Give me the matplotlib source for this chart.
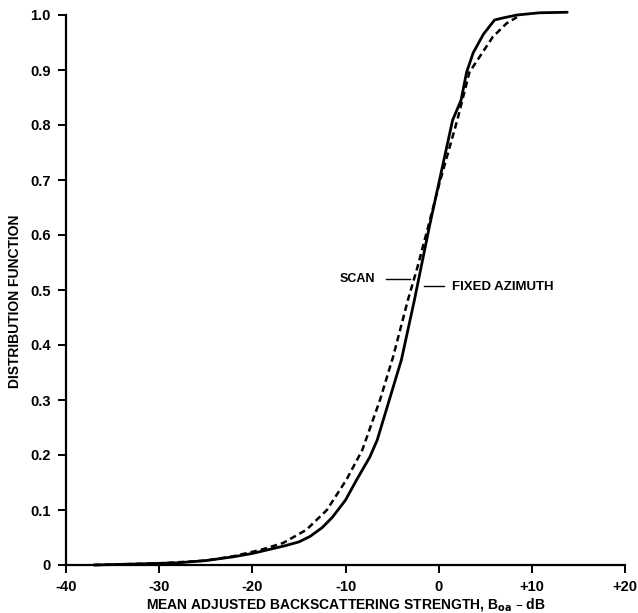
import matplotlib
matplotlib.use('Agg')
import matplotlib.pyplot as plt

# 曲线数据
fixed_x = [-37, -32, -28, -25, -22, -20, -18, -16.5, -15, -13.8, -12.5, -11.4, -10, -8.8, -7.4,
           -6.6, -5.3, -4.0, -2.6, -1.0, 0.4, 1.5, 2.4, 3.0, 3.7, 4.8, 6.0, 7.0, 8.4, 10.8, 13.8]
fixed_y = [0.0, 0.002, 0.004, 0.008, 0.015, 0.021, 0.029, 0.035, 0.042, 0.052, 0.068, 0.087, 0.118,
           0.155, 0.196, 0.227, 0.300, 0.373, 0.482, 0.615, 0.724, 0.809, 0.845, 0.896, 0.931, 0.965,
           0.991, 0.995, 1.000, 1.004, 1.005]

scan_x = [-37, -30, -25, -22, -19, -16.7, -14.2, -12.0, -9.9, -8.2, -6.3, -4.9, -3.3, -2.3, -1.3,
          0.1, 2.0, 3.3, 4.4, 5.8, 7.3, 8.4]
scan_y = [0.0, 0.003, 0.008, 0.016, 0.028, 0.040, 0.064, 0.100, 0.155, 0.209, 0.300, 0.378, 0.482,
          0.540, 0.604, 0.695, 0.809, 0.896, 0.924, 0.960, 0.985, 0.996]

xticks = [-40, -30, -20, -10, 0, 10, 20]
xtick_labels = ['-40', '-30', '-20', '-10', '0', '+10', '+20']
yticks = [0, 0.1, 0.2, 0.3, 0.4, 0.5, 0.6, 0.7, 0.8, 0.9, 1.0]
ytick_labels = ['0', '0.1', '0.2', '0.3', '0.4', '0.5', '0.6', '0.7', '0.8', '0.9', '1.0']

plt.rcParams['font.family'] = ['Liberation Sans', 'DejaVu Sans']
plt.rcParams['font.weight'] = 'bold'

fig = plt.figure(figsize=(6.38, 6.13), dpi=100)
ax = fig.add_axes([66 / 638, 48 / 613, 559 / 638, 550 / 613])

ax.plot(fixed_x, fixed_y, color='black', lw=2.0, solid_capstyle='round', clip_on=False)
ax.plot(scan_x, scan_y, color='black', lw=1.8, dashes=(2.6, 1.6), clip_on=False)

ax.set_xlim(-40, 20)
ax.set_ylim(0, 1.0)

# 坐标轴样式
for s in ['top', 'right']:
    ax.spines[s].set_visible(False)
for s in ['left', 'bottom']:
    ax.spines[s].set_linewidth(1.6)
ax.set_xticks(xticks)
ax.set_xticklabels(xtick_labels, fontsize=10.5, fontweight='bold')
ax.set_yticks(yticks)
ax.set_yticklabels(ytick_labels, fontsize=10.5, fontweight='bold')
ax.tick_params(axis='both', direction='out', length=6, width=1.4)
ax.tick_params(axis='x', pad=5)
ax.tick_params(axis='y', pad=5)

ax.set_xlabel('MEAN ADJUSTED BACKSCATTERING STRENGTH, B$_{\\mathbf{oa}}$ \u2013 dB',
              fontsize=10, fontweight='bold', labelpad=1)
ax.set_ylabel('DISTRIBUTION FUNCTION', fontsize=10, fontweight='bold', labelpad=4)
ax.yaxis.set_label_coords(-0.078, 0.48)

# 曲线标注
ax.text(-6.8, 0.52, 'SCAN', fontsize=9, fontweight='bold', ha='right', va='center')
ax.plot([-5.7, -3.1], [0.52, 0.52], color='black', lw=1.0)
ax.text(1.4, 0.505, 'FIXED AZIMUTH', fontsize=9.5, fontweight='bold', ha='left', va='center')
ax.plot([-1.6, 0.6], [0.507, 0.507], color='black', lw=1.0)

fig.savefig('out.png', dpi=100)
